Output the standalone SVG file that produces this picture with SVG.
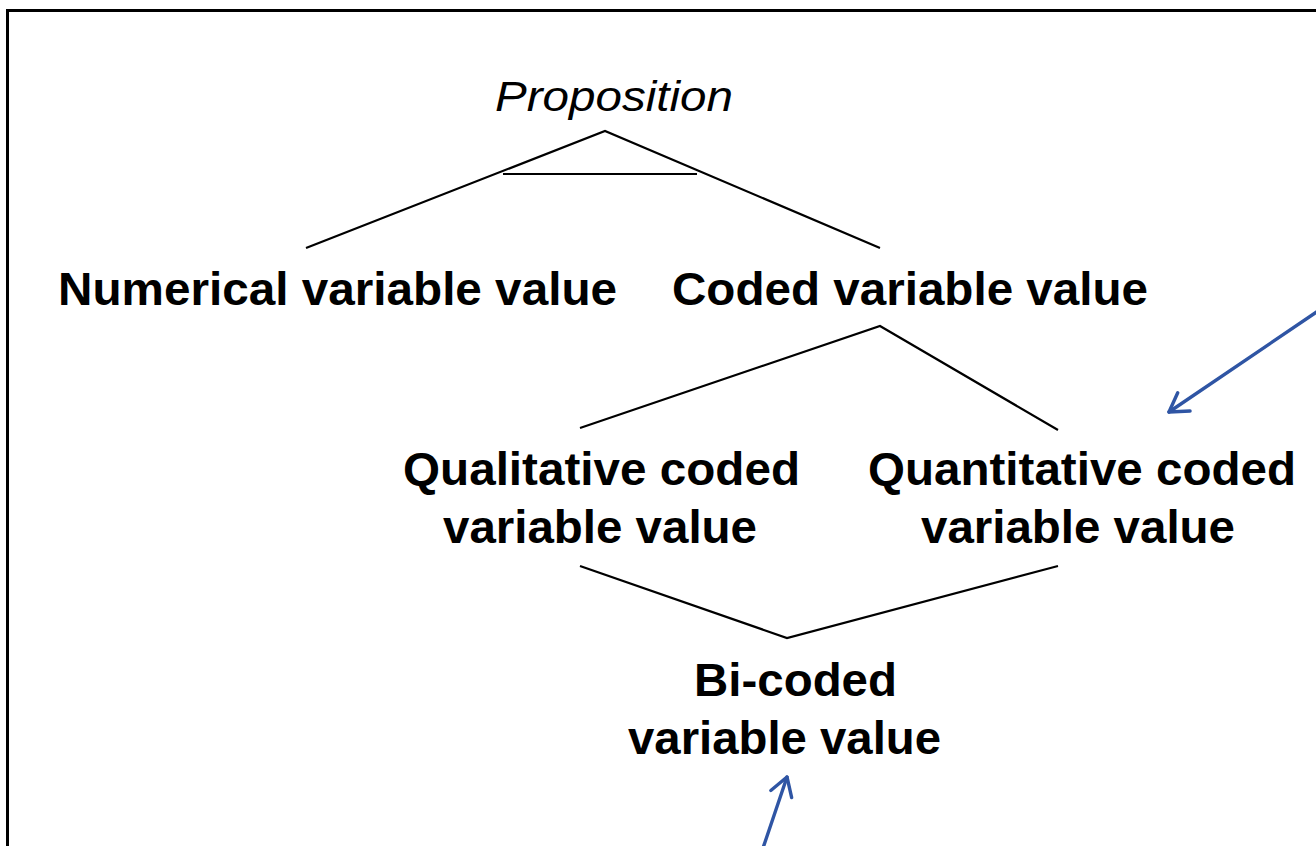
<svg xmlns="http://www.w3.org/2000/svg" width="1316" height="846" viewBox="0 0 1316 846">
  <style>
    .frame { fill: none; stroke: #000; stroke-width: 3; }
    .edge { fill: none; stroke: #000; stroke-width: 2.2; }
    .pointer { fill: none; stroke: #2F55A4; stroke-width: 3.4; stroke-linecap: round; }
    .label { font-family: "Liberation Sans", Arial, sans-serif; font-weight: bold; font-size: 46px; fill: #000; }
    .root { font-family: "Liberation Sans", Arial, sans-serif; font-style: italic; font-size: 43px; fill: #000; }
  </style>
  <defs>
    <marker id="chevron" markerUnits="userSpaceOnUse" viewBox="-22 -14 24 28" refX="0" refY="0" markerWidth="24" markerHeight="28" orient="auto" overflow="visible">
      <path d="M-18,-11 L0,0 L-18,11" fill="none" stroke="#2F55A4" stroke-width="3.4" stroke-linecap="round" stroke-linejoin="round"/>
    </marker>
  </defs>

  <rect class="frame" x="7.5" y="10.5" width="1320" height="850"/>

  <!-- tree branches and pointers -->
  <g id="connectors">
    <polyline class="edge" points="306,248 605,131 880,248"/>
    <line class="edge" x1="503" y1="174" x2="697" y2="174"/>
    <polyline class="edge" points="580,428 880,326 1058,430"/>
    <polyline class="edge" points="580,566 787,638 1058,566"/>
    <line class="pointer" x1="1318" y1="311" x2="1169" y2="412" marker-end="url(#chevron)"/>
    <line class="pointer" x1="763" y1="848" x2="787" y2="777" marker-end="url(#chevron)"/>
  </g>

  <g id="proposition">
    <text class="root" x="495" y="111" textLength="238" lengthAdjust="spacingAndGlyphs">Proposition</text>
  </g>
  <g id="numerical">
    <text class="label" x="58" y="305" textLength="559" lengthAdjust="spacingAndGlyphs">Numerical variable value</text>
  </g>
  <g id="coded">
    <text class="label" x="672" y="305" textLength="476" lengthAdjust="spacingAndGlyphs">Coded variable value</text>
  </g>
  <g id="qualitative">
    <text class="label" x="403" y="485" textLength="397" lengthAdjust="spacingAndGlyphs">Qualitative coded</text>
    <text class="label" x="443" y="543" textLength="314" lengthAdjust="spacingAndGlyphs">variable value</text>
  </g>
  <g id="quantitative">
    <text class="label" x="868" y="485" textLength="428" lengthAdjust="spacingAndGlyphs">Quantitative coded</text>
    <text class="label" x="921" y="543" textLength="314" lengthAdjust="spacingAndGlyphs">variable value</text>
  </g>
  <g id="bicoded">
    <text class="label" x="694" y="696" textLength="203" lengthAdjust="spacingAndGlyphs">Bi-coded</text>
    <text class="label" x="628" y="754" textLength="313" lengthAdjust="spacingAndGlyphs">variable value</text>
  </g>
</svg>
